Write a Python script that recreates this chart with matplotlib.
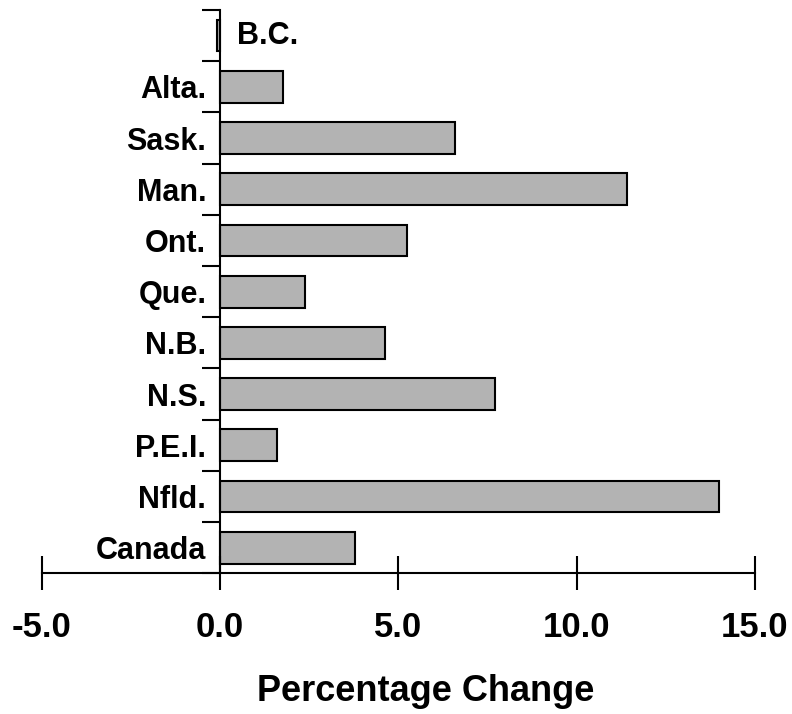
import matplotlib.pyplot as plt
import numpy as np

plt.rcParams['font.family'] = ['Liberation Sans', 'DejaVu Sans']
plt.rcParams['font.weight'] = 'bold'

regions = ['Canada', 'Nfld.', 'P.E.I.', 'N.S.', 'N.B.', 'Que.', 'Ont.', 'Man.', 'Sask.', 'Alta.', 'B.C.']
change = [3.77, 14.0, 1.59, 7.70, 4.63, 2.38, 5.24, 11.42, 6.59, 1.75, -0.08]
xticks = [-5.0, 0.0, 5.0, 10.0, 15.0]

fig = plt.figure(figsize=(7.92, 7.14), dpi=100)
ax = fig.add_axes([0.053, 0.197, 0.9, 0.789])

pos = np.arange(len(regions))
ax.barh(pos, change, height=0.62, color='#b3b3b3', edgecolor='black', linewidth=1.5)

ax.set_xlim(-5, 15)
ax.set_ylim(-0.5, len(regions) - 0.5)

ax.spines['top'].set_visible(False)
ax.spines['right'].set_visible(False)
ax.spines['left'].set_position(('data', 0))
ax.spines['left'].set_linewidth(1.5)
ax.spines['bottom'].set_linewidth(1.5)

ax.set_xticks(xticks)
ax.set_xticklabels(['%.1f' % t for t in xticks], fontsize=25, fontweight='bold')
ax.tick_params(axis='x', direction='inout', length=24, width=1.5, pad=15)

# labels at category centres, ticks at category boundaries
ax.set_yticks(pos[:-1])
ax.set_yticklabels(regions[:-1], fontsize=22, fontweight='bold')
ax.tick_params(axis='y', which='major', length=0, pad=10)
ax.set_yticks(np.arange(len(regions) + 1) - 0.5, minor=True)
ax.tick_params(axis='y', which='minor', direction='out', length=13, width=1.5)

ax.annotate(regions[-1], xy=(0, pos[-1]), xytext=(12, 0), textcoords='offset points',
            ha='left', va='center', fontsize=22, fontweight='bold')

ax.set_xlabel('Percentage Change', fontsize=26, fontweight='bold', labelpad=22, x=0.539)

fig.savefig('out.png', dpi=100)
